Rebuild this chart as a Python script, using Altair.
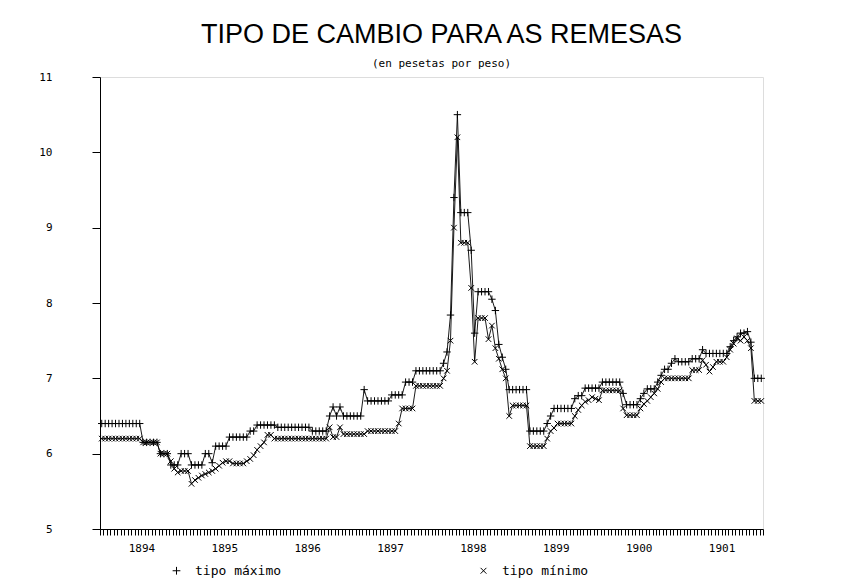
import altair as alt
import pandas as pd

# ---- data (semi-monthly quotes, Jan 1894 - Dec 1901) ----
years = [1894, 1895, 1896, 1897, 1898, 1899, 1900, 1901]
series_names = ["tipo máximo", "tipo mínimo"]

tipo_maximo = (
    [6.4] * 12 + [6.15] * 5 + [6.0] * 3 + [5.85] * 3 + [6.0] * 3 + [5.85] * 4
    + [6.0] * 2 + [5.88] + [6.1] * 4 + [6.22] * 6 + [6.3] * 2 + [6.38] * 6
    + [6.35] * 10 + [6.3] * 5 + [6.5, 6.62, 6.5, 6.62] + [6.5] * 6 + [6.85]
    + [6.7] * 7 + [6.78] * 4 + [6.95] * 3 + [7.1] * 8
    + [7.2, 7.35, 7.84, 9.4, 10.5] + [9.2] * 3 + [8.7, 7.6] + [8.15] * 4
    + [8.05, 7.9, 7.45, 7.28, 7.12] + [6.85] * 6 + [6.3] * 5 + [6.4, 6.5]
    + [6.6] * 6 + [6.73] + [6.77] * 2 + [6.87] * 5 + [6.95] * 6 + [6.8]
    + [6.65] * 4 + [6.73, 6.8] + [6.86] * 3 + [6.95, 7.04] + [7.12] * 2
    + [7.2, 7.26] + [7.22] * 4 + [7.26] * 3 + [7.38] + [7.33] * 7
    + [7.42, 7.5, 7.55, 7.6, 7.6, 7.62, 7.48] + [7.0] * 3
)

tipo_minimo = (
    [6.2] * 12 + [6.15] * 5 + [6.0] * 3 + [5.9, 5.8, 5.75] + [5.77] * 3
    + [5.6, 5.65, 5.68, 5.71, 5.73, 5.75, 5.77]
    + [5.8, 5.84, 5.88, 5.9, 5.9] + [5.87] * 4
    + [5.9, 5.93, 5.98, 6.05, 6.1, 6.15, 6.25, 6.25] + [6.2] * 16
    + [6.35, 6.22, 6.22, 6.35] + [6.26] * 7 + [6.3] * 7 + [6.3] * 2 + [6.4]
    + [6.6] * 4 + [6.9] * 8 + [7.0, 7.1, 7.5, 9.0, 10.2] + [8.8] * 3
    + [8.2, 7.22] + [7.8] * 3 + [7.52, 7.7, 7.4, 7.26, 7.12, 7.0, 6.5]
    + [6.64] * 5 + [6.1] * 5 + [6.2, 6.3, 6.34] + [6.4] * 5
    + [6.5, 6.58, 6.64, 6.69, 6.71, 6.75, 6.73, 6.71] + [6.84] * 6 + [6.6]
    + [6.51] * 4 + [6.6, 6.66, 6.7, 6.75, 6.8, 6.86, 6.95, 7.0] + [7.0] * 7
    + [7.11] * 3 + [7.24, 7.18, 7.09, 7.15, 7.22, 7.22, 7.22, 7.28]
    + [7.38, 7.46, 7.53, 7.5, 7.55, 7.5, 7.4] + [6.7] * 3
)

PER_YEAR = 24
rows = []
for name, vals in zip(series_names, [tipo_maximo, tipo_minimo]):
    for i, v in enumerate(vals):
        rows.append({"t": years[0] + (i + 0.5) / PER_YEAR, "valor": v, "serie": name})
df = pd.DataFrame(rows)

n_periods = len(years) * PER_YEAR
tick_values = [years[0] + k / PER_YEAR for k in range(n_periods + 1)]

PLUS = "M-1,0L1,0M0,-1L0,1"
CROSS = "M-0.75,-0.75L0.75,0.75M-0.75,0.75L0.75,-0.75"
MONO = "DejaVu Sans Mono"

x_enc = alt.X(
    "t:Q",
    scale=alt.Scale(domain=[years[0], years[-1] + 1], nice=False, zero=False),
    axis=alt.Axis(
        title=None,
        values=tick_values,
        labelExpr="abs(datum.value - floor(datum.value) - 0.5) < 0.01 ? '' + floor(datum.value) : ''",
        labelOverlap=False,
        labelFlush=False,
        tickSize=6,
        tickColor="black",
        tickWidth=1,
        domainColor="black",
        labelFont=MONO,
        labelFontSize=11,
        labelColor="black",
        labelPadding=7,
        grid=False,
    ),
)
y_enc = alt.Y(
    "valor:Q",
    scale=alt.Scale(domain=[5, 11], nice=False, zero=False),
    axis=alt.Axis(
        title=None,
        values=[5, 6, 7, 8, 9, 10, 11],
        tickSize=8,
        tickColor="black",
        domainColor="black",
        labelFont=MONO,
        labelFontSize=11,
        labelColor="black",
        labelPadding=40,
        grid=False,
    ),
)

lines = alt.Chart(df).mark_line(color="black", strokeWidth=0.9).encode(
    x=x_enc, y=y_enc, detail="serie:N"
)
points = alt.Chart(df).mark_point(filled=False, color="black", strokeWidth=1, size=55, opacity=1).encode(
    x=x_enc,
    y=y_enc,
    shape=alt.Shape(
        "serie:N",
        scale=alt.Scale(domain=series_names, range=[PLUS, CROSS]),
        legend=alt.Legend(
            title=None,
            orient="none",
            legendX=70,
            legendY=487,
            direction="horizontal",
            columns=2,
            columnPadding=195,
            labelOffset=12,
            labelFont=MONO,
            labelFontSize=13,
            labelColor="black",
            symbolStrokeColor="black",
            symbolFillColor="transparent",
            symbolStrokeWidth=1,
            symbolSize=60,
        ),
    ),
)

chart = (
    alt.layer(lines, points)
    .properties(
        width=663,
        height=452,
        title=alt.TitleParams(
            text="TIPO DE CAMBIO PARA AS REMESAS",
            subtitle="(en pesetas por peso)",
            font="Liberation Sans",
            fontSize=27,
            fontWeight="normal",
            color="black",
            subtitleFont=MONO,
            subtitleFontSize=11,
            subtitleColor="black",
            subtitlePadding=9,
            anchor="middle",
            offset=1,
            dx=10,
        ),
        padding={"left": 30, "top": 13, "right": 60, "bottom": 60},
    )
    .configure_view(stroke="black", strokeWidth=1)
    .configure(background="white")
)

chart.save("out.html", embed_options={"renderer": "svg", "actions": False})
